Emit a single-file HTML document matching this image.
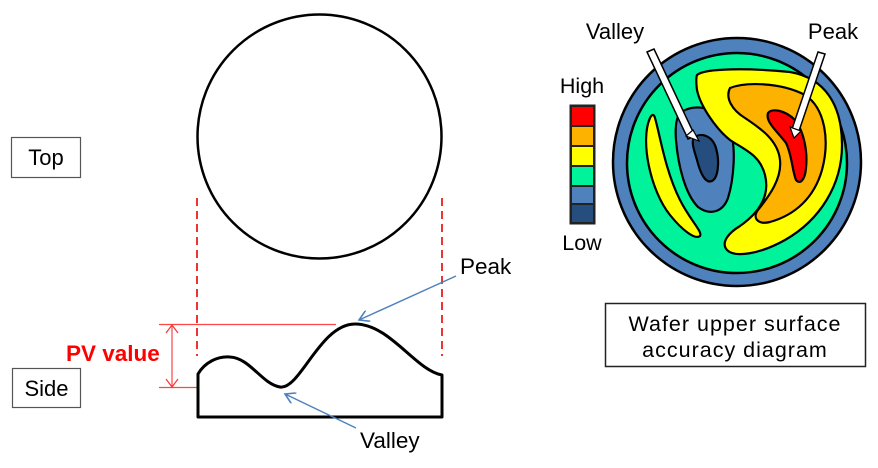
<!DOCTYPE html>
<html><head><meta charset="utf-8"><style>
html,body{margin:0;padding:0;background:#fff;}
svg{display:block;}
text{font-family:"Liberation Sans",Arial,sans-serif;}
</style></head><body>
<svg width="878" height="468" viewBox="0 0 878 468" xmlns="http://www.w3.org/2000/svg">
<defs>
<marker id="ab" markerWidth="12" markerHeight="12" refX="10" refY="6" orient="auto" markerUnits="userSpaceOnUse">
<path d="M0,0 L10,6 L0,12" fill="none" stroke="#4f81bd" stroke-width="1.6"/></marker>
<marker id="ar" markerWidth="12" markerHeight="14" refX="9" refY="7" orient="auto-start-reverse" markerUnits="userSpaceOnUse">
<path d="M1,1 L9,7 L1,13" fill="none" stroke="#f33" stroke-width="1.2"/></marker>
</defs>
<circle cx="319.5" cy="136.5" r="122" fill="#fff" stroke="#000" stroke-width="2.5"/>
<rect x="11.5" y="137.5" width="69" height="40" fill="#fff" stroke="#555" stroke-width="1.2"/>
<text x="46" y="165" font-size="22" text-anchor="middle">Top</text>
<rect x="12.5" y="368.5" width="68" height="39" fill="#fff" stroke="#555" stroke-width="1.2"/>
<text x="46.5" y="396" font-size="22" text-anchor="middle">Side</text>
<line x1="197" y1="198" x2="197" y2="356" stroke="#e33" stroke-width="2" stroke-dasharray="8,5"/>
<line x1="442" y1="198" x2="442" y2="356" stroke="#e33" stroke-width="2" stroke-dasharray="8,5"/>
<line x1="159" y1="324.5" x2="336" y2="324.5" stroke="#f44" stroke-width="1.2"/>
<line x1="159" y1="387.5" x2="266" y2="387.5" stroke="#f44" stroke-width="1.2"/>
<line x1="172" y1="325" x2="172" y2="387" stroke="#f44" stroke-width="1.2" marker-start="url(#ar)" marker-end="url(#ar)"/>
<text x="66" y="361" font-size="22.5" font-weight="bold" fill="#f00">PV value</text>
<path d="M198,417 L198,374 C205,362 218,356 230,357 C250,358 262,384 280,387 C300,390 320,324 355,324 C390,324 415,370 442,375 L442,417 Z" fill="#fff" stroke="#000" stroke-width="3" stroke-linejoin="round"/>
<line x1="456" y1="276" x2="359" y2="320" stroke="#4f81bd" stroke-width="1.5" marker-end="url(#ab)"/>
<text x="460" y="274" font-size="22.5">Peak</text>
<line x1="356" y1="428" x2="285" y2="394" stroke="#4f81bd" stroke-width="1.5" marker-end="url(#ab)"/>
<text x="360" y="448" font-size="22.5">Valley</text>
<text x="582" y="93" font-size="21.5" text-anchor="middle">High</text>
<text x="582" y="250" font-size="21.5" text-anchor="middle">Low</text>
<rect x="570" y="105" width="25" height="119" fill="#222" stroke="#222" stroke-width="1"/>
<rect x="572" y="107" width="21" height="18" fill="#f00"/>
<rect x="572" y="127" width="21" height="18" fill="#fdb200"/>
<rect x="572" y="147" width="21" height="18" fill="#ff0"/>
<rect x="572" y="167" width="21" height="18" fill="#00f29a"/>
<rect x="572" y="187" width="21" height="16" fill="#4f81bd"/>
<rect x="572" y="205" width="21" height="17" fill="#254e7e"/>
<circle cx="737" cy="162" r="124" fill="#4f81bd" stroke="#000" stroke-width="2.5"/>
<circle cx="737" cy="163" r="110" fill="#00f29a" stroke="#000" stroke-width="2.5"/>
<path d="M650,118 C640,140 650,190 670,215 C682,230 695,240 700,236 C703,232 690,220 680,200 C665,170 660,135 655,118 C654,114 652,114 650,118 Z" fill="#ff0" stroke="#000" stroke-width="2.2"/>
<path d="M680,113 C695,102 718,108 728,125 C738,145 733,182 728,198 C723,212 710,216 698,207 C685,194 678,165 676,140 C675,127 676,118 680,113 Z" fill="#4f81bd" stroke="#000" stroke-width="2.2"/>
<path d="M694,138 C700,132 712,135 716,148 C720,162 718,178 712,181 C705,184 700,172 697,160 C694,150 691,142 694,138 Z" fill="#254e7e" stroke="#000" stroke-width="2.2"/>
<path d="M697,75 C705,68 750,68 790,72 C825,78 842,105 842,145 C842,185 820,220 785,240 C760,254 735,258 727,250 C720,242 730,232 740,226 C760,212 770,195 765,175 C760,155 745,150 730,140 C715,128 700,105 697,90 C696,82 696,78 697,75 Z" fill="#ff0" stroke="#000" stroke-width="2.2"/>
<path d="M730,88 C745,82 780,82 805,95 C825,108 830,140 822,170 C814,198 795,215 770,222 C758,225 752,218 758,210 C770,195 782,178 780,160 C778,140 760,128 745,118 C732,110 725,98 730,88 Z" fill="#fdb200" stroke="#000" stroke-width="2.2"/>
<path d="M768,113 C772,108 785,110 795,120 C803,130 808,150 806,168 C805,180 800,185 796,180 C792,170 792,155 786,143 C778,132 765,122 768,113 Z" fill="#f00" stroke="#000" stroke-width="2.2"/>
<polygon points="647,52 654,49 695,136 688,139" fill="#fff" stroke="#000" stroke-width="1.5"/>
<polygon points="686,136 699,141 693,130" fill="#fff" stroke="#000" stroke-width="1.2"/>
<polygon points="818,52 825,54 799,131 792,129" fill="#fff" stroke="#000" stroke-width="1.5"/>
<polygon points="790,127 801,131 794,138" fill="#fff" stroke="#000" stroke-width="1.2"/>
<text x="615" y="39" font-size="22" text-anchor="middle">Valley</text>
<text x="833" y="39" font-size="22" text-anchor="middle">Peak</text>
<rect x="605.5" y="303.5" width="260" height="63" fill="#fff" stroke="#222" stroke-width="1.5"/>
<text x="735" y="331" font-size="21.5" text-anchor="middle" letter-spacing="1">Wafer upper surface</text>
<text x="735" y="357" font-size="21.5" text-anchor="middle" letter-spacing="1">accuracy diagram</text>
</svg>
</body></html>
